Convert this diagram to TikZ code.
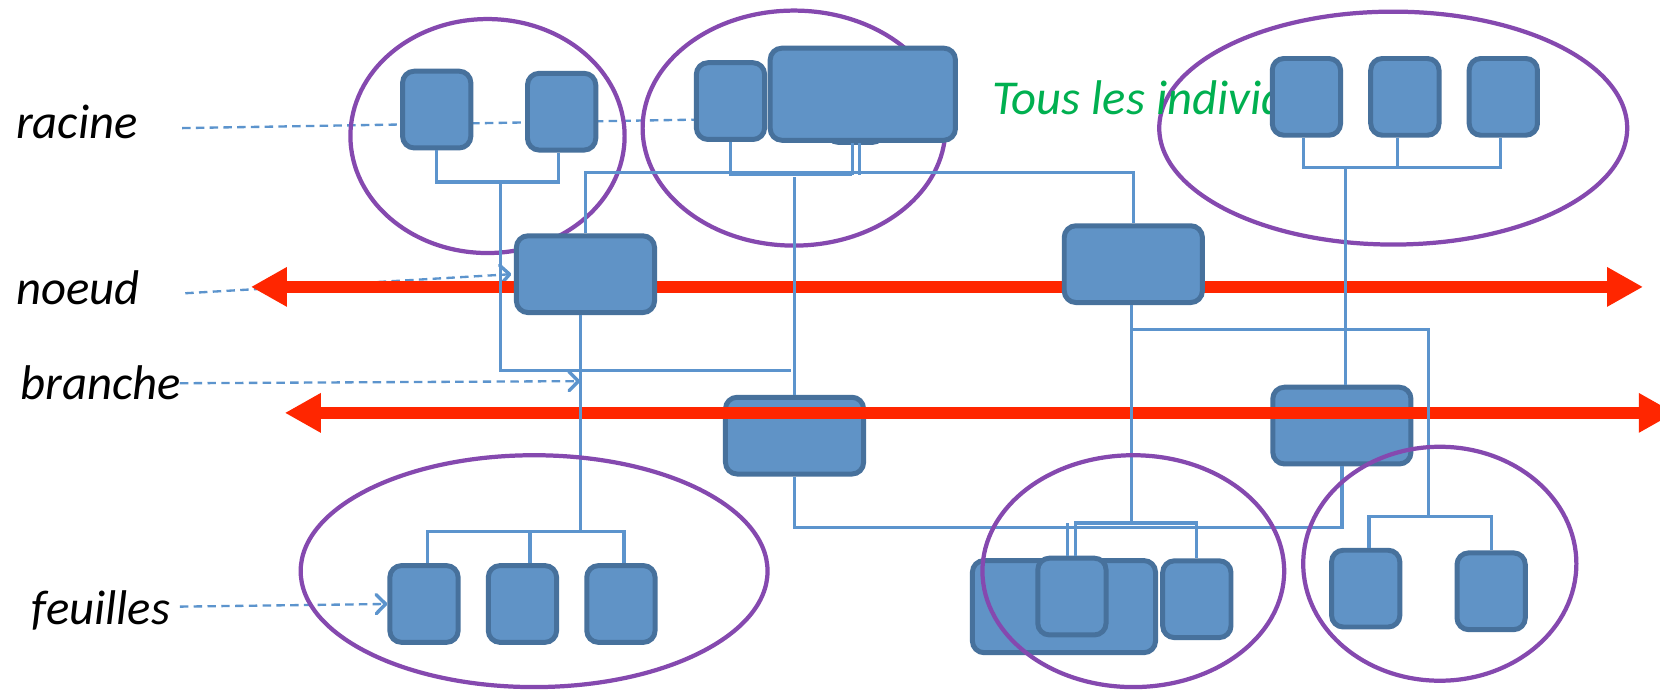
\documentclass[tikz,border=0pt]{standalone}
\usepackage{fontspec}
\setmainfont{Carlito}
\usetikzlibrary{arrows.meta}
\definecolor{boxfill}{RGB}{96,147,198}
\definecolor{boxline}{RGB}{71,113,156}
\definecolor{linkc}{RGB}{92,148,205}
\definecolor{purplec}{RGB}{133,73,175}
\definecolor{redc}{RGB}{255,38,0}
\definecolor{greenc}{RGB}{0,176,80}
\begin{document}
\begin{tikzpicture}[x=1pt,y=-1pt,
  blk/.style={draw=boxline, fill=boxfill, line width=4.7pt, rounded corners=11pt, inner sep=0pt},
  sm/.style={blk, minimum width=64.5pt, minimum height=72.5pt},
  wd/.style={blk, minimum width=130.5pt, minimum height=72.5pt},
  link/.style={draw=linkc, line width=3.1pt},
  lead/.style={draw=linkc, line width=2.2pt, dash pattern=on 8pt off 5pt},
  chev/.style={-{Straight Barb[length=9pt,width=18pt,line width=3.2pt,round]}},
  grp/.style={draw=purplec, line width=4pt},
  redarr/.style={draw=redc, line width=11.3pt, {Triangle[length=34pt,width=35pt]}-{Triangle[length=34pt,width=35pt]}},
  lbl/.style={anchor=base west, inner sep=0pt, font=\fontsize{46pt}{55pt}\selectfont\itshape}]
\useasboundingbox (0,0) rectangle (1568,653);
\clip (0,0) rectangle (1568,653);
\fill[white] (0,0) rectangle (1568,653);

% labels
\node[lbl] (racine) at (15,131) {racine};
\node[lbl] (noeud) at (15,288) {noeud};
\node[lbl] (branche) at (19,377) {branche};
\node[lbl] (feuilles) at (30,590) {feuilles};

% coordinates
\coordinate (r0) at (172,121);
\coordinate (rt) at (658,113);
\coordinate (n0) at (175,277);
\coordinate (nt) at (483,259);
\coordinate (b0) at (170,362);
\coordinate (bt) at (548,360);
\coordinate (f0) at (170,573);
\coordinate (a1l) at (237,271);
\coordinate (a1r) at (1552,271);
\coordinate (a2l) at (269,390);
\coordinate (a2r) at (1582,390);

% leader lines behind boxes and red arrow 1
\draw[lead] (r0) -- (rt);
\draw[lead, chev] (n0) -- (nt);

% top groups
\draw[grp] (460.5,128.5) ellipse [x radius=129.5pt, y radius=110.5pt];
\draw[grp] (750,121) ellipse [x radius=143pt, y radius=111pt];
\draw[grp] (1316,121) ellipse [x radius=221pt, y radius=110pt];

\node[lbl, text=greenc] (tous) at (937,108) {Tous les individus};

% top boxes
\node[sm] (A1) at (412.5,103.5) {};
\node[sm] (A2) at (530.5,105.5) {};
\node[sm] (B1) at (690,95.5) {};
\node[blk, minimum width=54pt, minimum height=72pt] (Bh) at (808,98.5) {};
\node[blk, minimum width=175pt, minimum height=87pt] (B2) at (815,89) {};
\node[sm] (E1) at (1234,91.5) {};
\node[sm] (E2) at (1327,91.5) {};
\node[sm] (E3) at (1420,91.5) {};

% red arrow 1
\draw[redarr] (a1l) -- (a1r);

% middle boxes
\node[wd] (N) at (553,259) {};
\node[wd] (C) at (1070.5,249.5) {};
\node[wd] (D) at (750.5,411.5) {};
\node[wd] (F) at (1267.5,402) {};

% red arrow 2
\draw[redarr] (a2l) -- (a2r);

\draw[lead, chev] (b0) -- (bt);

% connectors
\coordinate (jA) at (473,172);
\coordinate (jB) at (747,350);
\draw[link] (A1.south) |- (jA) -| ([xshift=-3pt]A2.south);
\draw[link] (jA) |- (jB);
\draw[link] (N.north) |- (C.north |- 0,163) -- (C.north);
\draw[link] (B1.south) |- ([xshift=-10pt]B2.south |- 0,165);
\draw[link] ([xshift=-10pt]B2.south) -- ++(0,30);
\draw[link] ([xshift=-3pt]B2.south) -- ++(0,30);
\draw[link] (D.north) -- (D.north |- 0,167);
\draw[link] ([xshift=-3pt]E1.south) |- ([xshift=-3pt]E3.south |- 0,158) -- ([xshift=-3pt]E3.south);
\draw[link] ([xshift=-7pt]E2.south) -- ++(0,28);
\draw[link] ([xshift=3.5pt]F.north) -- ([xshift=3.5pt]F.north |- 0,158);
\draw[link] ([xshift=-5pt]N.south) -- ++(0,204);
\draw[link] ([xshift=-1.5pt]C.south) -- ++(0,206);
\coordinate (jH) at (1349,488);
\draw[link] ([xshift=-1.5pt]C.south |- 0,311) -| (jH);
\draw[link] (D.south) |- (F.south |- 0,498) -- (F.south);

% bottom boxes
\node[sm] (L1) at (400.5,570.5) {};
\node[sm] (L2) at (493.5,570.5) {};
\node[sm] (L3) at (586.5,570.5) {};
\node[blk, minimum width=173pt, minimum height=87pt] (G) at (1005,573) {};
\node[sm] (G2) at (1012.5,563.5) {};
\node[sm] (G3) at (1130.5,566) {};
\node[sm] (H1) at (1290,556) {};
\node[sm] (H2) at (1408.5,558.5) {};

\draw[link] ([xshift=3pt]L1.north) |- ([xshift=3pt]L3.north |- 0,502) -- ([xshift=3pt]L3.north);
\draw[link] ([xshift=7pt]L2.north) -- ++(0,-30);
\draw[link] ([xshift=3.5pt]G2.north) |- (G3.north |- 0,494) -- (G3.north);
\draw[link] ([xshift=-4.5pt]G2.north) -- ++(0,-31);
\draw[link] ([xshift=3pt]H1.north) |- (jH) -| (H2.north);

\draw[lead, chev] (f0) -- (L1.west);

% bottom groups
\draw[grp] (504.5,539.5) ellipse [x radius=220.5pt, y radius=109.5pt];
\draw[grp] (1070.5,539.5) ellipse [x radius=142.5pt, y radius=109.5pt];
\draw[grp] (1360,532.5) ellipse [x radius=129pt, y radius=110.5pt];
\end{tikzpicture}
\end{document}
